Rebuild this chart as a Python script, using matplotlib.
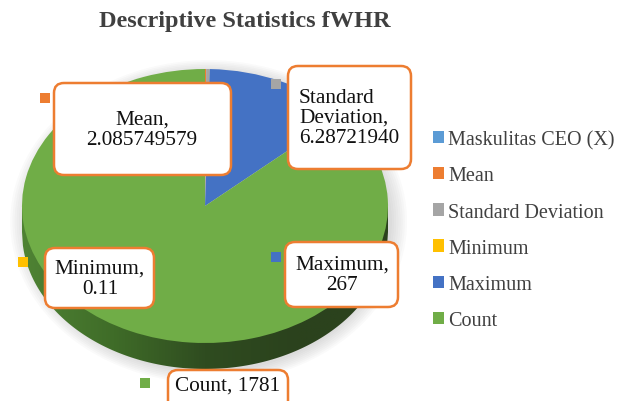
import numpy as np
import matplotlib
matplotlib.use('Agg')
from matplotlib import pyplot as plt
from matplotlib.patches import FancyBboxPatch, Patch, Rectangle, Ellipse

# data
labels = ['Maskulitas CEO (X)', 'Mean', 'Standard Deviation', 'Minimum', 'Maximum', 'Count']
values = [0, 2.085749579, 6.28721940, 0.11, 267, 1781]
label_texts = ['Mean,\n2.085749579', 'Standard\nDeviation,\n6.28721940', 'Minimum,\n0.11', 'Maximum,\n267', 'Count, 1781']
colors = ['#5B9BD5', '#ED7D31', '#A5A5A5', '#FFC000', '#4472C4', '#70AD47']

plt.rcParams['font.family'] = ['Liberation Serif', 'DejaVu Serif']

W, H = 622, 402
fig = plt.figure(figsize=(W / 100, H / 100), dpi=100, facecolor='w')

# pie, squashed into an ellipse
cx, cy, rx, ry, depth = 205, 207, 183, 137, 26
d = depth / ry
ax = fig.add_axes([(cx - rx) / W, (H - (cy + ry + depth)) / H, 2 * rx / W, (2 * ry + depth) / H])
ax.set_axis_off()

# soft shadow
for k in range(8):
    s = 1 + 0.012 * k
    ax.add_patch(Ellipse((0.02, -d / 2 - 0.02), 2 * s, 2 * s + d, fc='#7f7f7f', ec='none',
                         alpha=0.035, zorder=0, clip_on=False))

# side of the disc
xs = np.linspace(-1, 1, 400)
lower = -np.sqrt(1 - xs ** 2)
side = ax.fill_between(xs, lower - d, 0, color='none', zorder=1)
grad = np.linspace(0, 1, 256).reshape(1, -1)
cmap = matplotlib.colors.LinearSegmentedColormap.from_list(
    'side', ['#4f8334', '#3f6c28', '#2f4c20', '#2b421d', '#2b421d'])
img = ax.imshow(grad, extent=[-1, 1, -1 - d, 0], aspect='auto', cmap=cmap, zorder=1)
img.set_clip_path(side.get_paths()[0], transform=ax.transData)

wedges, _ = ax.pie(values, colors=colors, startangle=90, counterclock=False,
                   wedgeprops=dict(linewidth=0))
for w in wedges:
    w.set_zorder(2)
ax.set_aspect('auto')
ax.set_xlim(-1, 1)
ax.set_ylim(-1 - d, 1)

fig.text(245 / W, 1 - 22 / H, 'Descriptive Statistics fWHR', ha='center', va='center',
         fontsize=17.5, fontweight='bold', color='#404040')

# data label boxes, drawn in pixel coordinates
ov = fig.add_axes([0, 0, 1, 1], zorder=5)
ov.set_xlim(0, W)
ov.set_ylim(H, 0)
ov.set_axis_off()
ov.patch.set_alpha(0)

boxes = [  # x0, y0, x1, y1, text x, align, key x, key y, colour index
    (54, 84, 231, 176, 142, 'center', 45, 99, 1),
    (288, 67, 411, 170, 299, 'left', 276, 85, 2),
    (45, 249, 154, 309, 100, 'center', 23, 263, 3),
    (285, 243, 398, 308, 342, 'center', 276, 258, 4),
    (168, 371, 288, 412, 228, 'center', 145, 384, 5),
]
for (x0, y0, x1, y1, tx, al, kx, ky, ci), txt in zip(boxes, label_texts):
    ov.add_patch(FancyBboxPatch((x0, y0), x1 - x0, y1 - y0,
                                boxstyle='round,pad=0,rounding_size=10',
                                fc='white', ec='#ED7D31', lw=1.8, clip_on=False))
    ty = (y0 + y1) / 2 if ci != 5 else 386
    ov.text(tx, ty, txt, ha=al, va='center', multialignment=al,
            fontsize=15.3, color='#111111', linespacing=1.08)
    ov.add_patch(Rectangle((kx - 5, ky - 5), 10, 10, fc=colors[ci], ec='none'))

handles = [Patch(facecolor=c, edgecolor='none') for c in colors]
leg = fig.legend(handles, labels, loc='center left', bbox_to_anchor=(423 / W, 1 - 231 / H),
                 frameon=False, fontsize=14.5, handlelength=0.55, handleheight=0.55,
                 handletextpad=0.2, labelspacing=0.85, borderpad=0)
for t in leg.get_texts():
    t.set_color('#404040')

plt.savefig('out.png', dpi=100)
